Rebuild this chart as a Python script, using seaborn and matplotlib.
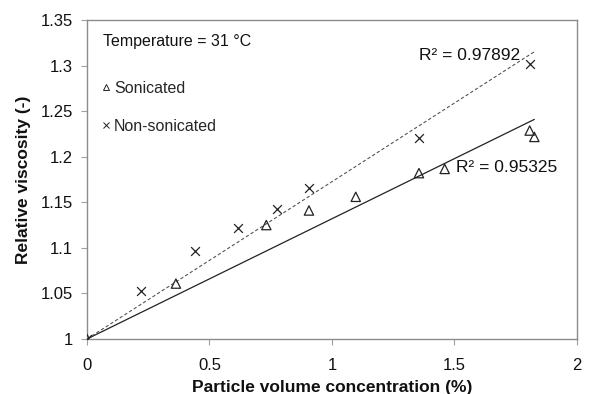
import numpy as np
import pandas as pd
import matplotlib
matplotlib.use("Agg")
import matplotlib.pyplot as plt
import seaborn as sns
from matplotlib.lines import Line2D

# Data
son_x = [0.0, 0.363, 0.732, 0.906, 1.097, 1.355, 1.46, 1.807, 1.826]
son_y = [1.0, 1.0608, 1.125, 1.141, 1.156, 1.182, 1.1866, 1.2287, 1.2217]
non_x = [0.0, 0.219, 0.44, 0.617, 0.774, 0.906, 1.355, 1.81]
non_y = [1.0, 1.053, 1.0966, 1.1215, 1.143, 1.166, 1.2207, 1.3015]
r2_son = "R² = 0.95325"
r2_non = "R² = 0.97892"
x_ticks = [0, 0.5, 1, 1.5, 2]
x_labels = ["0", "0.5", "1", "1.5", "2"]
y_ticks = [1, 1.05, 1.1, 1.15, 1.2, 1.25, 1.3, 1.35]
y_labels = ["1", "1.05", "1.1", "1.15", "1.2", "1.25", "1.3", "1.35"]

sns.set_theme(style="white")
plt.rcParams['font.family'] = ['Liberation Sans', 'DejaVu Sans']

fig = plt.figure(figsize=(5.89, 3.94), dpi=100)
ax = fig.add_axes([0.1477, 0.1396, 0.8319, 0.8096])

def fit_through_one(x, y):
    x = np.asarray(x); y = np.asarray(y)
    return np.sum(x * (y - 1)) / np.sum(x * x)

s_son = fit_through_one(son_x, son_y)
s_non = fit_through_one(non_x, non_y)
xmax = max(max(son_x), max(non_x))
lx = np.array([0.0, xmax])
line_df = pd.DataFrame({
    "x": np.concatenate([lx, lx]),
    "y": np.concatenate([1 + s_son * lx, 1 + s_non * lx]),
    "series": ["son"] * 2 + ["non"] * 2,
})
sns.lineplot(data=line_df[line_df.series == "son"], x="x", y="y", ax=ax,
             color="#222222", lw=0.9, legend=False)
sns.lineplot(data=line_df[line_df.series == "non"], x="x", y="y", ax=ax,
             color="#555555", lw=0.8, legend=False)
ax.lines[-1].set_linestyle((0, (3, 2)))

sns.scatterplot(x=son_x, y=son_y, ax=ax, marker="^", s=45,
                facecolor="none", edgecolor="#222222", linewidth=0.9, zorder=3)
sns.scatterplot(x=non_x, y=non_y, ax=ax, marker="x", s=40,
                color="#222222", linewidth=0.9, zorder=3)

ax.set_xlim(0, 2)
ax.set_ylim(1, 1.35)
ax.set_xticks(x_ticks)
ax.set_xticklabels(x_labels)
ax.set_yticks(y_ticks)
ax.set_yticklabels(y_labels)
ax.tick_params(axis="both", direction="out", length=4, width=0.8,
               color="#a0a0a0", labelsize=12, labelcolor="#111111", pad=6,
               bottom=True, left=True)
ax.tick_params(axis="x", pad=10)
for sp in ax.spines.values():
    sp.set_color("#8c8c8c")
    sp.set_linewidth(1.0)

ax.set_xlabel("Particle volume concentration (%)", fontsize=12.5,
              fontweight="bold", color="#111111", labelpad=5)
ax.set_ylabel("Relative viscosity (-)", fontsize=12.5,
              fontweight="bold", color="#111111", labelpad=7)

ax.text(0.065, 1.3265, "Temperature = 31 °C", fontsize=11.5, color="#111111",
        va="center", ha="left")
handles = [
    Line2D([], [], marker="^", ls="none", markersize=5, markerfacecolor="none",
           markeredgecolor="#222222", markeredgewidth=0.7),
    Line2D([], [], marker="x", ls="none", markersize=5, color="#222222",
           markeredgewidth=0.7),
]
ax.legend(handles, ["Sonicated", "Non-sonicated"], loc="upper left",
          bbox_to_anchor=(0.0, 0.855), frameon=False, fontsize=11.5,
          handlelength=0.6, handletextpad=0.2, labelspacing=1.45,
          borderaxespad=0.5)

ax.text(1.355, 1.311, r2_non, fontsize=12.5, color="#111111", va="center", ha="left")
ax.text(1.505, 1.1885, r2_son, fontsize=12.5, color="#111111", va="center", ha="left")

fig.savefig("out.png", dpi=100)
